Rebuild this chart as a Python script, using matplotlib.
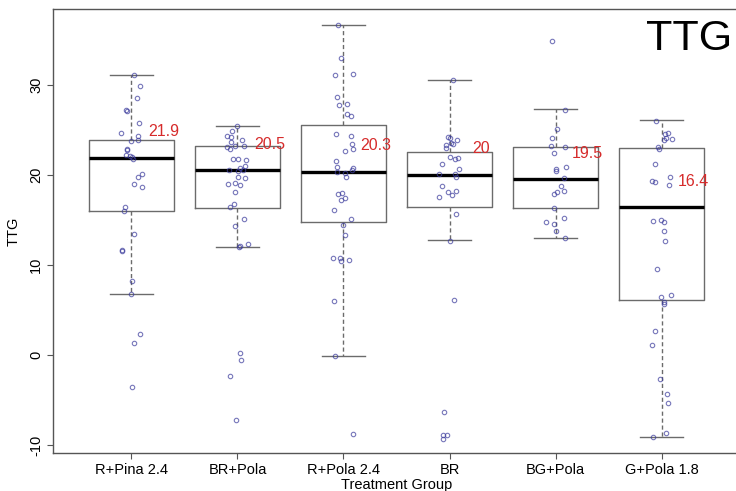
import numpy as np
import matplotlib
matplotlib.use("Agg")
import matplotlib.pyplot as plt

plt.rcParams['font.family'] = ['Liberation Sans', 'DejaVu Sans']

# Treatment groups and the TTG values
groups = ["R+Pina 2.4", "BR+Pola", "R+Pola 2.4", "BR", "BG+Pola", "G+Pola 1.8"]

g1 = [31.1, 29.8, 28.5, 27.2, 27.1, 25.7, 24.6, 24.3, 23.9, 23.7, 22.9, 22.7,
      22.2, 22.1, 22.0, 21.7, 20.1, 19.7, 19.0, 18.6, 16.4, 16.0, 13.4, 11.6,
      11.5, 8.2, 6.8, 2.3, 1.3, -3.6]
g2 = [25.4, 24.9, 24.3, 24.2, 23.9, 23.6, 23.2, 23.1, 23.2, 22.9, 21.8, 21.6,
      21.7, 21.0, 20.8, 20.5, 20.5, 20.4, 19.8, 19.6, 19.1, 18.9, 19.0, 18.1,
      16.7, 16.4, 15.1, 14.3, 12.3, 12.0, 12.1, 0.2, -0.6, -2.4, -7.2]
g3 = [36.6, 33.0, 31.1, 31.2, 28.6, 27.9, 27.7, 26.5, 26.7, 24.5, 24.3, 22.9,
      23.4, 22.6, 21.5, 20.9, 20.8, 20.2, 20.3, 20.5, 19.7, 17.4, 17.2, 18.0,
      17.9, 16.1, 15.1, 14.4, 13.3, 10.7, 10.5, 10.8, 10.4, 6.0, -0.1, -8.8]
g4 = [30.5, 24.2, 24.1, 23.8, 23.3, 23.5, 23.4, 23.0, 22.0, 21.8, 21.9, 21.2,
      20.6, 20.1, 20.1, 19.7, 18.8, 18.1, 18.2, 17.5, 17.7, 15.6, 12.6, 6.1,
      -6.3, -8.9, -8.9, -9.3]
g5 = [34.9, 27.2, 25.1, 24.1, 23.2, 23.1, 22.4, 20.9, 20.6, 20.4, 19.6, 18.8,
      18.1, 17.9, 18.2, 16.3, 15.2, 14.7, 14.5, 13.8, 13.0]
g6 = [26.0, 24.6, 24.5, 24.1, 23.9, 24.0, 23.1, 22.9, 21.2, 19.3, 19.2, 19.7,
      18.9, 14.9, 14.8, 15.0, 13.7, 12.6, 9.5, 6.6, 6.4, 5.9, 5.6, 2.7, 1.1,
      -2.7, -4.3, -5.4, -8.7, -9.1]
values = [g1, g2, g3, g4, g5, g6]

# box statistics as drawn in the reference
q1 = [16.0, 16.3, 14.7, 16.4, 16.3, 6.1]
medians = [21.9, 20.5, 20.3, 20.0, 19.5, 16.4]
q3 = [23.9, 23.2, 25.5, 22.5, 23.1, 23.0]
whis_lo = [6.8, 12.0, -0.1, 12.7, 13.0, -9.1]
whis_hi = [31.1, 25.4, 36.6, 30.5, 27.3, 26.1]
median_labels = ["21.9", "20.5", "20.3", "20", "19.5", "16.4"]

fig = plt.figure(figsize=(7.36, 4.91), dpi=100)
ax = fig.add_axes([53 / 736, 1 - 453 / 491, 687 / 736, 444 / 491])

stats = []
for i in range(len(groups)):
    stats.append(dict(q1=q1[i], med=medians[i], q3=q3[i],
                      whislo=whis_lo[i], whishi=whis_hi[i], fliers=[]))

pos = np.arange(1, len(groups) + 1)
grey = "#6b6b6b"
ax.bxp(stats, positions=pos, widths=0.8, capwidths=0.4, showfliers=False,
       boxprops=dict(color=grey, linewidth=1.0),
       whiskerprops=dict(color=grey, linewidth=1.0, linestyle=(0, (3, 2))),
       capprops=dict(color=grey, linewidth=1.0),
       medianprops=dict(color="black", linewidth=2.4))

# jittered points
rng = np.random.default_rng(7)
for i, vals in enumerate(values):
    xs = pos[i] + rng.uniform(-0.1, 0.1, len(vals))
    ax.plot(xs, vals, "o", markersize=3.2, markerfacecolor="none",
            markeredgecolor="#3c3c9c", markeredgewidth=0.8, alpha=0.7,
            zorder=3)

# median labels
for i, lab in enumerate(median_labels):
    ax.text(pos[i] + 0.3, medians[i] + 2.9, lab, color="#d62b2b",
            fontsize=11.5, ha="center", va="center")

ax.set_xlim(0.26, 6.74)
ax.set_ylim(-10.9, 38.4)
ax.set_xticks(pos)
ax.set_xticklabels(groups, fontsize=10.5)
ax.set_yticks([-10, 0, 10, 20, 30])
ax.set_yticklabels(["-10", "0", "10", "20", "30"], fontsize=10.5,
                   rotation=90, va="center")
ax.tick_params(axis="both", length=4, width=0.8, color="#555555", pad=3)
ax.set_xlabel("Treatment Group", fontsize=10.5, labelpad=1)
ax.set_ylabel("TTG", fontsize=10.5, labelpad=6)
for s in ax.spines.values():
    s.set_color("#555555")
    s.set_linewidth(1.0)

fig.text(732 / 736, 1 - 50 / 491, "TTG", fontsize=31, ha="right",
         va="baseline", color="black")

fig.savefig("out.png", dpi=100)
